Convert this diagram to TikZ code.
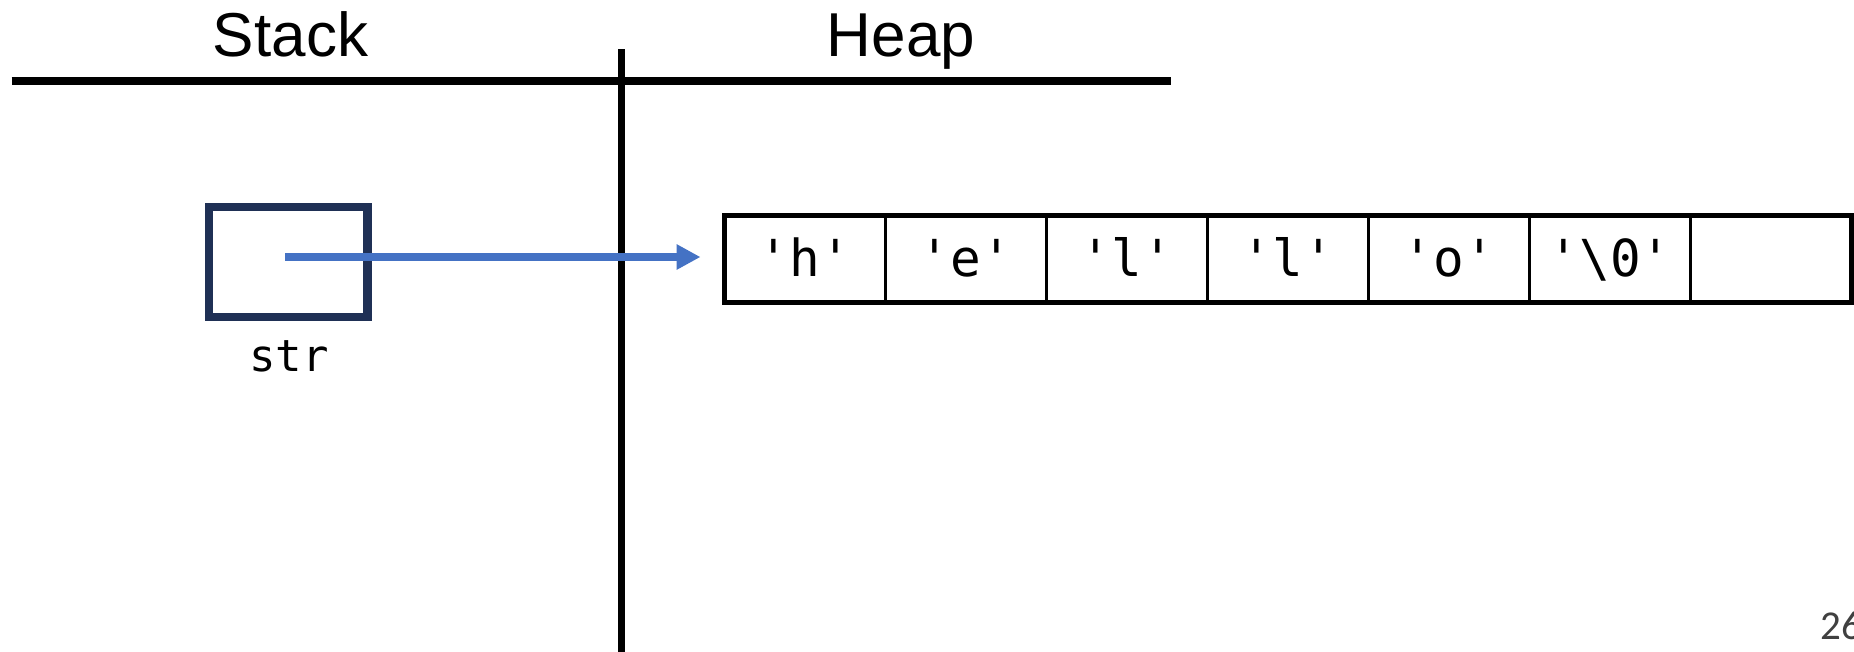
\documentclass[tikz,border=0pt]{standalone}
\usepackage{fontspec}
\setmainfont{Liberation Sans}
\newfontfamily\codefont{DejaVu Sans Mono}
\newfontfamily\pagefont{Carlito}
\usetikzlibrary{arrows.meta,positioning}
\definecolor{boxcol}{RGB}{31,48,85}
\definecolor{ptrcol}{RGB}{68,114,196}
\definecolor{pagecol}{RGB}{64,64,64}

\tikzset{
  heading/.style={font=\fontsize{62}{70}\selectfont,anchor=base,inner sep=0pt},
  divider/.style={line width=7.5pt},
  ptrbox/.style={draw=boxcol,line width=8.5pt,minimum width=158.5pt,minimum height=110pt,inner sep=0pt,outer sep=0pt},
  varname/.style={font=\codefont\fontsize{44}{50}\selectfont,anchor=base,inner sep=0pt},
  cell/.style={draw,line width=2.5pt,minimum width=161pt,minimum height=87pt,inner sep=0pt,outer sep=0pt,
    text height=34pt,text depth=0pt,font=\codefont\fontsize{51}{60}\selectfont},
  ptrarrow/.style={ptrcol,line width=8pt,-{Triangle[length=24pt,width=24pt]}}
}

\begin{document}
\begin{tikzpicture}[x=1pt,y=-1pt,>=Stealth]
  \useasboundingbox (0,0) rectangle (1854,651);
  % headings and the split between stack and heap
  \node[heading] (stk) at (290.5,56) {Stack};
  \node[heading] (hp) at (901,56) {Heap};
  \coordinate (hl) at (11.5,81);
  \coordinate (hr) at (1171,81);
  \coordinate (vt) at (621,49);
  \coordinate (vb) at (621,655);
  \draw[divider] (hl) -- (hr);
  \draw[divider,line width=7pt] (vt) -- (vb);
  % stack variable
  \node[ptrbox] (ptr) at (288,262) {};
  \node[varname] (ptrname) at (289,371) {str};
  % heap array
  \node[cell] (c1) at (805,259) {'h'};
  \node[cell,right=0pt of c1] (c2) {'e'};
  \node[cell,right=0pt of c2] (c3) {'l'};
  \node[cell,right=0pt of c3] (c4) {'l'};
  \node[cell,right=0pt of c4] (c5) {'o'};
  \node[cell,right=0pt of c5] (c6) {'\textbackslash0'};
  \node[cell,right=0pt of c6] (c7) {};
  \draw[line width=5.6pt] (c1.north west) rectangle (c7.south east);
  % pointer
  \coordinate (src) at (285,257);
  \draw[ptrarrow,shorten >=24pt] (src) -- (src -| c1.west);
  % page number
  \node[font=\pagefont\fontsize{41}{48}\selectfont,text=pagecol,anchor=base west,inner sep=0pt] (pg) at (1820,639) {26};
\end{tikzpicture}
\end{document}
